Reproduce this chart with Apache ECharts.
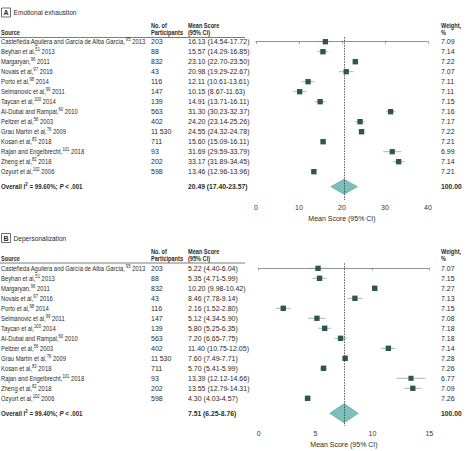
<!DOCTYPE html>
<html><head><meta charset="utf-8">
<script src="https://cdn.jsdelivr.net/npm/echarts@6/dist/echarts.min.js"></script>
<style>html,body{margin:0;padding:0;background:#fff}#c{width:468px;height:451px}</style>
</head><body><div id="c"></div>
<script>
// ---------- data ----------
const studies = ['Casteñeda Aguilera and García de Alba García', 'Beyhan et al', 'Margaryan', 'Novais et al', 'Porto et al', 'Selmanovic et al', 'Taycan et al', 'Al-Dubai and Rampal', 'Peltzer et al', 'Grau Martín et al', 'Kosan et al', 'Rajan and Engelbrecht', 'Zheng et al', 'Ozyurt et al'];
const refs = ['95', '51', '96', '97', '98', '99', '100', '60', '56', '76', '83', '101', '82', '102'];
const years = ['2013', '2013', '2011', '2016', '2014', '2011', '2014', '2010', '2003', '2009', '2018', '2018', '2018', '2006'];
const participants = [203, 88, 832, 43, 116, 147, 139, 563, 402, 11530, 711, 93, 202, 598];

const eeMean = [16.13, 15.57, 23.10, 20.98, 12.11, 10.15, 14.91, 31.30, 24.20, 24.55, 15.60, 31.69, 33.17, 13.46];
const eeLow = [14.54, 14.29, 22.70, 19.29, 10.61, 8.67, 13.71, 30.23, 23.14, 24.32, 15.09, 29.59, 31.89, 12.96];
const eeHigh = [17.72, 16.85, 23.50, 22.67, 13.61, 11.63, 16.11, 32.37, 25.26, 24.78, 16.11, 33.79, 34.45, 13.96];
const eeWeight = [7.09, 7.14, 7.22, 7.07, 7.11, 7.11, 7.15, 7.16, 7.17, 7.22, 7.21, 6.99, 7.14, 7.21];
const eeOverall = [20.49, 17.40, 23.57];
const eeOverallI2 = '99.60%';
const eeTicks = [0, 10, 20, 30, 40];

const dpMean = [5.22, 5.35, 10.20, 8.46, 2.16, 5.12, 5.80, 7.20, 11.40, 7.60, 5.70, 13.39, 13.55, 4.30];
const dpLow = [4.40, 4.71, 9.98, 7.78, 1.52, 4.34, 5.25, 6.65, 10.75, 7.49, 5.41, 12.12, 12.79, 4.03];
const dpHigh = [6.04, 5.99, 10.42, 9.14, 2.80, 5.90, 6.35, 7.75, 12.05, 7.71, 5.99, 14.66, 14.31, 4.57];
const dpWeight = [7.07, 7.15, 7.27, 7.13, 7.15, 7.08, 7.18, 7.18, 7.14, 7.28, 7.26, 6.77, 7.09, 7.26];
const dpOverall = [7.51, 6.25, 8.76];
const dpOverallI2 = '99.40%';
const dpTicks = [0, 5, 10, 15];

// ---------- style ----------
const FONT = "'Liberation Sans', Arial, sans-serif";
const TXT = '#2a2a2a';
const FS = 7;
const SX = 0.84;   // condensing of table words
const SXN = 1.0;   // numbers
const SXB = 0.8;   // bold headers
const COL = {src: 1, n: 151, ms: 188, w: 441};

function fmtN(n) { return n >= 10000 ? String(n).replace(/(\d)(?=(\d{3})+$)/g, '$1\u2009') : String(n); }
function fmtCI(m, l, h) { return m.toFixed(2) + ' (' + l.toFixed(2) + '-' + h.toFixed(2) + ')'; }

const rich = {
  n: {fontSize: FS, fontFamily: FONT, fill: TXT, lineHeight: 9},
  s: {fontSize: 5, fontFamily: FONT, fill: TXT, lineHeight: 9, verticalAlign: 'top'}
};

function txt(x, y, text, extra, sx) {
  return {
    type: 'text', x: x, y: y, scaleX: sx || SX,
    style: Object.assign({x: 0, y: 0, text: text, fontFamily: FONT, fontSize: FS, fill: TXT, verticalAlign: 'middle'}, extra || {})
  };
}

function makePanel(gi, mean, low, high, weight, overall, i2, ticks, diamondHalf) {
  const rows = mean.map((m, i) => [m, low[i], high[i], i, weight[i]]);
  const ovRow = studies.length + 0.5;
  const series = [];
  // table text
  series.push({
    type: 'custom', xAxisIndex: gi, yAxisIndex: gi, silent: true, clip: false,
    data: rows,
    renderItem: (params, api) => {
      const i = params.dataIndex;
      const y = api.coord([ticks[0], api.value(3)])[1];
      return {type: 'group', children: [
        txt(COL.src, y, '{n|' + studies[i] + ',}{s|' + refs[i] + '}{n| ' + years[i] + '}', {rich: rich}, SX),
        txt(COL.n, y, fmtN(participants[i]), {}, SXN),
        txt(COL.ms, y, fmtCI(mean[i], low[i], high[i]), {}, SXN),
        txt(COL.w, y, weight[i].toFixed(2), {}, SXN)
      ]};
    }
  });
  // overall text
  series.push({
    type: 'custom', xAxisIndex: gi, yAxisIndex: gi, silent: true, clip: false,
    data: [[overall[0], overall[1], overall[2], ovRow, 100]],
    renderItem: (params, api) => {
      const y = api.coord([ticks[0], api.value(3)])[1];
      const r = {
        b: {fontSize: FS, fontFamily: FONT, fontWeight: 'bold', fill: TXT, lineHeight: 9},
        i: {fontSize: FS, fontFamily: FONT, fontWeight: 'bold', fontStyle: 'italic', fill: TXT, lineHeight: 9},
        s: {fontSize: 5, fontFamily: FONT, fontWeight: 'bold', fill: TXT, verticalAlign: 'top', lineHeight: 9}
      };
      return {type: 'group', children: [
        txt(COL.src, y, '{b|Overall I}{s|2}{b| = ' + i2 + '; }{i|P}{b| < .001}', {rich: r}, 0.88),
        txt(COL.ms, y, fmtCI(overall[0], overall[1], overall[2]), {fontWeight: 'bold'}, 0.97),
        txt(COL.w, y, api.value(4).toFixed(2), {fontWeight: 'bold'}, 0.97)
      ]};
    }
  });
  // CI + squares
  series.push({
    type: 'custom', xAxisIndex: gi, yAxisIndex: gi, silent: true,
    data: rows,
    encode: {x: [0, 1, 2], y: 3},
    renderItem: (params, api) => {
      const m = api.value(0), lo = api.value(1), hi = api.value(2), r = api.value(3), w = api.value(4);
      const p = api.coord([m, r]), pl = api.coord([lo, r]), ph = api.coord([hi, r]);
      const s = w * 0.75;
      return {type: 'group', children: [
        {type: 'line', shape: {x1: pl[0], y1: p[1], x2: ph[0], y2: p[1]}, style: {stroke: '#8a9896', lineWidth: 0.7}},
        {type: 'rect', shape: {x: p[0] - s / 2, y: p[1] - s / 2, width: s, height: s}, style: {fill: '#2c5650'}}
      ]};
    },
    markLine: {
      silent: true, symbol: 'none', animation: false,
      label: {show: false},
      lineStyle: {type: [1.5, 1.2], color: '#333', width: 0.8},
      data: [{xAxis: overall[0]}]
    }
  });
  // diamond
  series.push({
    type: 'custom', xAxisIndex: gi, yAxisIndex: gi, silent: true, z: 1,
    data: [[overall[0], overall[1], overall[2], ovRow]],
    renderItem: (params, api) => {
      const m = api.value(0), lo = api.value(1), hi = api.value(2), r = api.value(3);
      const pts = [api.coord([lo, r]), api.coord([m, r - diamondHalf]), api.coord([hi, r]), api.coord([m, r + diamondHalf])];
      return {type: 'polygon', shape: {points: pts}, style: {fill: '#7cc0bc', stroke: '#4f9994', lineWidth: 0.6}};
    }
  });
  return series;
}

function xAxis(gi, ticks) {
  return {
    gridIndex: gi, type: 'value', min: ticks[0], max: ticks[ticks.length - 1],
    interval: ticks[1] - ticks[0],
    name: 'Mean Score (95% CI)', nameLocation: 'middle', nameGap: 15,
    nameTextStyle: {fontFamily: FONT, fontSize: 7, color: TXT},
    axisLine: {lineStyle: {color: '#777', width: 0.8}},
    axisTick: {show: true, length: 2, lineStyle: {color: '#777', width: 0.8}},
    axisLabel: {fontFamily: FONT, fontSize: 7, color: '#333333', margin: 4},
    splitLine: {show: false}
  };
}

function header(ty, letter, title) {
  const hy = ty + 20;
  const B = {fontWeight: 'bold'};
  return [
    {type: 'rect', shape: {x: 1.5, y: ty - 4.5, width: 9, height: 9}, style: {fill: '#fff', stroke: '#333', lineWidth: 0.7}},
    txt(6, ty, letter, {fontWeight: 'bold', align: 'center'}, 1),
    txt(13.5, ty, title, {fontSize: 7.5}, 0.88),
    txt(COL.src, hy, 'Source', B, SXB),
    txt(COL.n, hy - 7, 'No. of', B, SXB),
    txt(COL.n, hy, 'Participants', B, SXB),
    txt(COL.ms, hy - 7, 'Mean Score', B, SXB),
    txt(COL.ms, hy, '(95% CI)', B, SXB),
    txt(COL.w, hy - 7, 'Weight,', B, SXB),
    txt(COL.w, hy, '%', B, SXB),
    {type: 'line', shape: {x1: 0, y1: hy + 5, x2: 245, y2: hy + 5}, style: {stroke: '#444', lineWidth: 0.7}}
  ];
}

const chart = echarts.init(document.getElementById('c'), null, {renderer: 'svg'});
chart.setOption({
  animation: false,
  backgroundColor: '#fff',
  textStyle: {fontFamily: FONT, color: TXT},
  grid: [
    {left: 256, right: 40, top: 37, bottom: 251},
    {left: 258.7, right: 38.7, top: 263.3, bottom: 25}
  ],
  xAxis: [xAxis(0, eeTicks), xAxis(1, dpTicks)],
  yAxis: [
    {gridIndex: 0, type: 'value', inverse: true, min: -0.47, max: 15.83, show: false},
    {gridIndex: 1, type: 'value', inverse: true, min: -0.5, max: 15.77, show: false}
  ],
  graphic: header(12.5, 'A', 'Emotional exhaustion').concat(header(238, 'B', 'Depersonalization')),
  series: makePanel(0, eeMean, eeLow, eeHigh, eeWeight, eeOverall, eeOverallI2, eeTicks, 0.75)
    .concat(makePanel(1, dpMean, dpLow, dpHigh, dpWeight, dpOverall, dpOverallI2, dpTicks, 0.95))
});
</script>
</body></html>
